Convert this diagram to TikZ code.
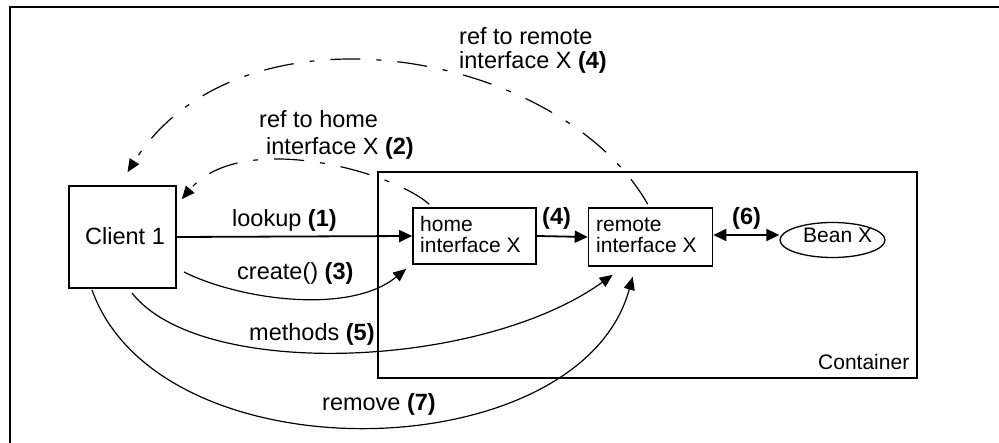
\documentclass[tikz,border=0pt]{standalone}
\usepackage{fontspec}
\setmainfont{Liberation Sans}
\usetikzlibrary{arrows.meta,calc,shapes.geometric}
\begin{document}
\begin{tikzpicture}[x=1pt,y=-1pt,
  lbl/.style={anchor=base west,inner sep=0pt,font=\fontsize{23.5}{28}\selectfont},
  boxtxt/.style={anchor=base west,inner sep=0pt,font=\fontsize{21}{25}\selectfont},
  boxnode/.style={draw,line width=1.6pt,inner sep=0pt},
  arr/.style={line width=1.8pt,-{Triangle[length=13pt,width=12pt]}},
  carr/.style={line width=1.2pt,-{Triangle[length=13pt,width=11pt]}},
  dd/.style={line width=1.2pt,dash pattern=on 30pt off 16pt on 5pt off 16pt,-{Triangle[length=13pt,width=11pt]}}]
\useasboundingbox (0,0) rectangle (999,443);
% outer frame
\coordinate (fbl) at (9.5,450);
\coordinate (ftl) at (9.5,7);
\coordinate (ftr) at (1005,7);
\draw[line width=2pt] (fbl) -- (ftl) -- (ftr);
% boxes
\node[boxnode,minimum width=107pt,minimum height=102pt] (client) at (122.5,237) {};
\node[lbl] (clienttxt) at (85,245) {Client 1};
\node[draw,line width=1.6pt,minimum width=539pt,minimum height=206pt,inner sep=0pt] (container) at (647.5,275) {};
\node[boxtxt] (conttxt) at (818,370) {Container};
\node[boxnode,minimum width=123pt,minimum height=56pt] (home) at (474.5,236) {};
\node[boxtxt] (home1) at (420,232) {home};
\node[boxtxt] (home2) at (420,253) {interface X};
\node[boxnode,minimum width=124pt,minimum height=58pt] (remote) at (650.5,237) {};
\node[boxtxt] (remote1) at (596,232) {remote};
\node[boxtxt] (remote2) at (596,253) {interface X};
\node[draw,line width=1.3pt,ellipse,minimum width=105pt,minimum height=35pt,inner sep=0pt] (bean) at (832.5,240) {};
\node[boxtxt] (beantxt) at (803,243) {Bean X};
% straight arrows
\draw[arr] (client.east) -- (home.west);
\draw[arr] (home.east) -- (remote.west);
\draw[line width=1.8pt,{Triangle[length=13pt,width=12pt]}-{Triangle[length=13pt,width=12pt]}] (remote.east |- 0,235) -- (bean.west |- 0,235);
% labels
\node[lbl] (l1) at (232,227) {lookup \textbf{(1)}};
\node[lbl] (l4) at (542,225) {\textbf{(4)}};
\node[lbl] (l6) at (732,225) {\textbf{(6)}};
\node[lbl] (l3) at (237,280) {create() \textbf{(3)}};
\node[lbl] (l5) at (249,341) {methods \textbf{(5)}};
\node[lbl] (l7) at (322,411) {remove \textbf{(7)}};
\node[lbl] (l2a) at (259,128) {ref to home};
\node[lbl] (l2b) at (266,155) {interface X \textbf{(2)}};
\node[lbl] (l4a) at (459,45) {ref to remote};
\node[lbl] (l4b) at (459,69) {interface X \textbf{(4)}};
% curved calls
\coordinate (s3) at (184,272);
\coordinate (s5) at (132,293);
\coordinate (s7) at (92,290);
\draw[carr] (s3) .. controls (240,300) and (350,315) .. ($(home.south west)+(-6,4)$);
\draw[carr] (s5) .. controls (200,380) and (480,370) .. ($(remote.south west)+(25,8)$);
\draw[carr] (s7) .. controls (160,480) and (580,470) .. ($(remote.south west)+(45,10)$);
% dash-dot returns
\draw[dd] ($(home.north west)+(17,-3)$) .. controls (390,170) and (240,130) .. ($(client.north east)+(5,14)$);
\draw[dd] ($(remote.north west)+(60,-3)$) .. controls (560,50) and (241,-7) .. ($(client.north)+(5,-13)$);
\end{tikzpicture}
\end{document}
